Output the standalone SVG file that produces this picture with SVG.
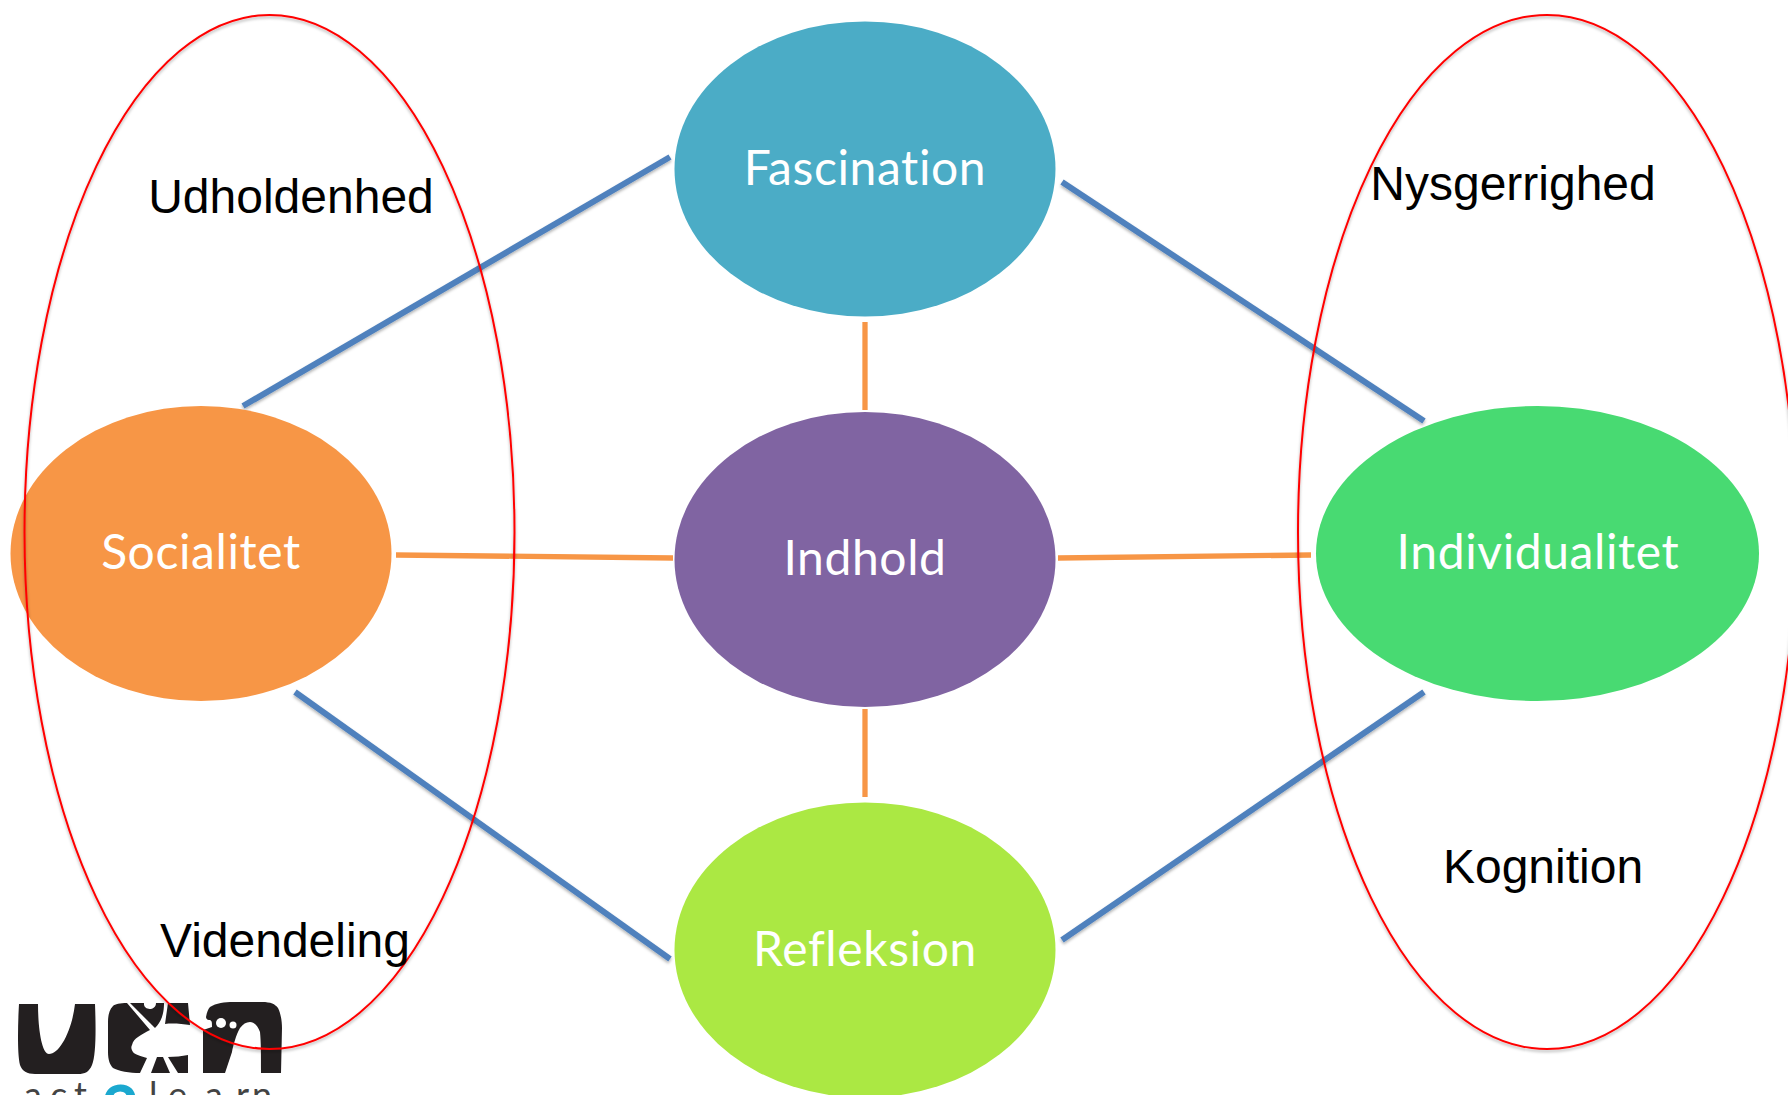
<svg xmlns="http://www.w3.org/2000/svg" width="1788" height="1095" viewBox="0 0 1788 1095">
<defs>
<filter id="sh" x="-5%" y="-5%" width="110%" height="110%"><feDropShadow dx="0" dy="2" stdDeviation="1.800" flood-color="#000" flood-opacity="0.300"/></filter>
</defs>
<style>
.n{font-family:Lato,"Open Sans",sans-serif;font-size:48px;letter-spacing:.6px;font-variant-ligatures:none;fill:#fff;text-anchor:middle}
.l{font-family:"Liberation Sans",Arial,sans-serif;font-size:48px;fill:#000;text-anchor:middle}
.b{stroke:#4f81bd;stroke-width:6;fill:none;filter:url(#sh)}
.o{stroke:#f79646;stroke-width:5.300;fill:none}
.r{fill:none;stroke:#f00;stroke-width:2;filter:url(#sh)}
.k{fill:#231f20}
.a{font-family:Lato,sans-serif;font-size:36px;fill:#444}
</style>
<rect width="1788" height="1095" fill="#fff"/>
<g id="logo">
<path class="k" d="M19 1004H38C38 1030 42 1054 49 1054C60 1054 72 1030 75 1004H95C96 1030 96 1055 92 1065C89 1072 85 1074 78 1074H35C27 1074 22 1071 20 1065C17 1052 18 1022 19 1004Z"/>
<path class="k" d="M127 1003C120 1003 115 1004 113 1006C109 1010 108 1016 108 1022V1052C108 1060 110 1065 113 1068C118 1071 130 1073 140 1073L147 1058C140 1056 134 1054 133 1052C131 1049 131 1047 132 1045C133 1041 135 1039 138 1037C142 1034 146 1032 150 1030Z"/>
<path class="k" d="M130 1003H144C143 1011 156 1011 156 1003H164C164 1010 163 1014 162 1017C160 1022 158 1025 155 1028Z"/>
<path class="k" d="M168 1003H188L190 1025C182 1024 173 1023 165 1024ZM151 1073L157 1057H163L170 1073ZM168 1057C175 1057 182 1056 188 1055V1073H178Z"/>
<path class="k" d="M203 1073V1030L212 1027C212 1022 212 1020 209 1020C207 1020 206 1018 206 1017C207 1012 208 1009 210 1007C216 1003 225 1002 233 1002H262C271 1002 275 1004 278 1008C281 1014 282 1022 282 1028L281 1073H261C261 1055 261 1042 260 1032C258 1026 254 1022 250 1022C246 1022 243 1024 240 1028C236 1035 233 1046 232 1052L225 1073Z"/>
<circle cx="221" cy="1023" r="5" fill="#fff"/><circle cx="233" cy="1025" r="3.500" fill="#fff"/>
<text class="a" x="24 50 74" y="1108">act</text>
<text x="101" y="1134" font-family="Lato,sans-serif" font-weight="700" font-size="66" fill="#1ba8cf">2</text>
<text class="a" x="149 168 205 236 252" y="1108">learn</text>
</g>
<g id="connectors">
<line class="b" x1="670" y1="157" x2="243" y2="406"/>
<line class="b" x1="1062" y1="182" x2="1424" y2="421"/>
<line class="b" x1="295" y1="692" x2="670" y2="959"/>
<line class="b" x1="1424" y1="692" x2="1062" y2="940"/>
<line class="o" x1="865" y1="322" x2="865" y2="410"/>
<line class="o" x1="865" y1="709" x2="865" y2="797"/>
<line class="o" x1="396" y1="555" x2="673" y2="558"/>
<line class="o" x1="1058" y1="558" x2="1311" y2="555"/>
</g>
<g id="fascination"><ellipse cx="865" cy="169" rx="190.500" ry="147.500" fill="#4bacc6"/><text class="n" x="865" y="185">Fascination</text></g>
<g id="indhold"><ellipse cx="865" cy="559.500" rx="190.500" ry="147.500" fill="#8064a2"/><text class="n" x="865" y="575">Indhold</text></g>
<g id="refleksion"><ellipse cx="865" cy="950" rx="190.500" ry="147.500" fill="#abe843"/><text class="n" x="865" y="966">Refleksion</text></g>
<g id="socialitet"><ellipse cx="201" cy="553.500" rx="190.500" ry="147.500" fill="#f79646"/><text class="n" x="201" y="569">Socialitet</text></g>
<g id="individualitet"><ellipse cx="1537.500" cy="553.500" rx="221.500" ry="147.500" fill="#48da72"/><text class="n" x="1538" y="569">Individualitet</text></g>
<g id="group-left"><ellipse class="r" cx="269.500" cy="532" rx="245" ry="517"/><text class="l" x="291" y="213">Udholdenhed</text><text class="l" x="285" y="957">Videndeling</text></g>
<g id="group-right"><ellipse class="r" cx="1547" cy="532" rx="249" ry="517"/><text class="l" x="1513" y="200">Nysgerrighed</text><text class="l" x="1543" y="883">Kognition</text></g>
</svg>
